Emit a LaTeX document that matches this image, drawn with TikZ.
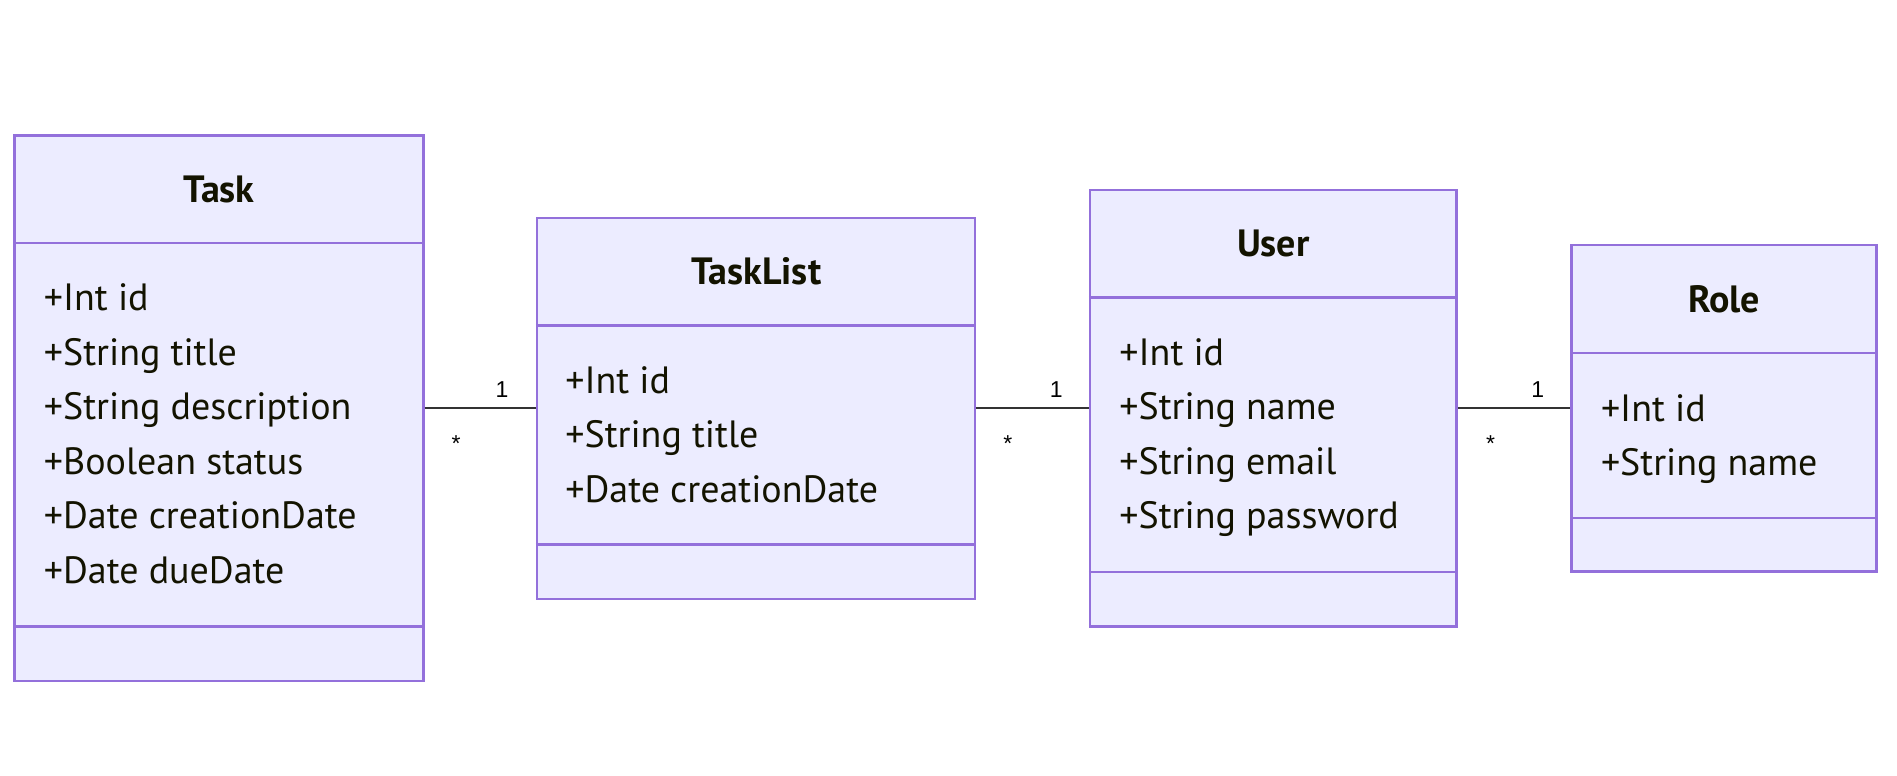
\documentclass[tikz,border=0pt]{standalone}
\usepackage{fontspec}
\setmainfont{PT Sans}
\newfontfamily\multfont{Liberation Sans}
\usepackage{tikz}
\usepackage{xcolor}
\usetikzlibrary{positioning}

\definecolor{umlfill}{HTML}{ECECFF}
\definecolor{umlborder}{HTML}{9370DB}
\definecolor{umlline}{HTML}{333333}
\definecolor{umltext}{HTML}{131300}

\newcommand{\px}{0.6049pt}

\tikzset{
    classbox/.style 2 args={draw=umlborder, fill=umlfill, line width=1.2pt, inner sep=0pt,
        minimum width=#1*\px, minimum height=#2*\px},
    classline/.style={draw=umlborder, line width=1.2pt},
    classtitle/.style={anchor=base, inner sep=0pt, text=umltext,
        font=\fontsize{19}{22}\selectfont\bfseries},
    attr/.style={anchor=base west, inner sep=0pt, text=umltext,
        font=\fontsize{19}{22}\selectfont},
    assoc/.style={draw=umlline, line width=1pt},
    mult/.style={inner sep=0pt, text=black, font=\multfont\fontsize{11.5}{13}\selectfont}
}

\begin{document}
\begin{tikzpicture}[x=\px, y=-\px]
    \useasboundingbox (0,0) rectangle (1568,641);

    % classes
    \node[classbox={338}{451}] (task) at (181, 337.5) {};
    \node[classbox={362}{315}] (tasklist) at (625, 337.5) {};
    \node[classbox={303}{361}] (user) at (1052.5, 337.5) {};
    \node[classbox={252}{270}] (role) at (1425, 337.5) {};

    % compartments
    \draw[classline] (task.west |- 0,201) -- (task.east |- 0,201);
    \draw[classline] (task.west |- 0,518) -- (task.east |- 0,518);
    \draw[classline] (tasklist.west |- 0,269) -- (tasklist.east |- 0,269);
    \draw[classline] (tasklist.west |- 0,450) -- (tasklist.east |- 0,450);
    \draw[classline] (user.west |- 0,246) -- (user.east |- 0,246);
    \draw[classline] (user.west |- 0,473) -- (user.east |- 0,473);
    \draw[classline] (role.west |- 0,292) -- (role.east |- 0,292);
    \draw[classline] (role.west |- 0,428) -- (role.east |- 0,428);

    % titles
    \node[classtitle] (task-name) at (181, 167) {Task};
    \node[classtitle] (tasklist-name) at (625, 235) {TaskList};
    \node[classtitle] (user-name) at (1052.5, 212) {User};
    \node[classtitle] (role-name) at (1425, 258) {Role};

    % attributes
    \node[attr] (task-id) at (36, 257) {+Int id};
    \node[attr] (task-title) at (36, 302) {+String title};
    \node[attr] (task-desc) at (36, 347) {+String description};
    \node[attr] (task-status) at (36, 392) {+Boolean status};
    \node[attr] (task-created) at (36, 437) {+Date creationDate};
    \node[attr] (task-due) at (36, 482) {+Date dueDate};

    \node[attr] (tasklist-id) at (467, 325) {+Int id};
    \node[attr] (tasklist-title) at (467, 370) {+String title};
    \node[attr] (tasklist-created) at (467, 415) {+Date creationDate};

    \node[attr] (user-id) at (925, 302) {+Int id};
    \node[attr] (user-name2) at (925, 347) {+String name};
    \node[attr] (user-email) at (925, 392) {+String email};
    \node[attr] (user-pw) at (925, 437) {+String password};

    \node[attr] (role-id) at (1323, 348) {+Int id};
    \node[attr] (role-name2) at (1323, 393) {+String name};

    % associations
    \draw[assoc] (task.east) -- (tasklist.west);
    \draw[assoc] (tasklist.east) -- (user.west);
    \draw[assoc] (user.east) -- (role.west);

    \node[mult] (m1a) at (377, 367) {*};
    \node[mult] (m1b) at (415, 322) {1};
    \node[mult] (m2a) at (833, 367) {*};
    \node[mult] (m2b) at (873, 322) {1};
    \node[mult] (m3a) at (1232, 367) {*};
    \node[mult] (m3b) at (1271, 322) {1};
\end{tikzpicture}
\end{document}
